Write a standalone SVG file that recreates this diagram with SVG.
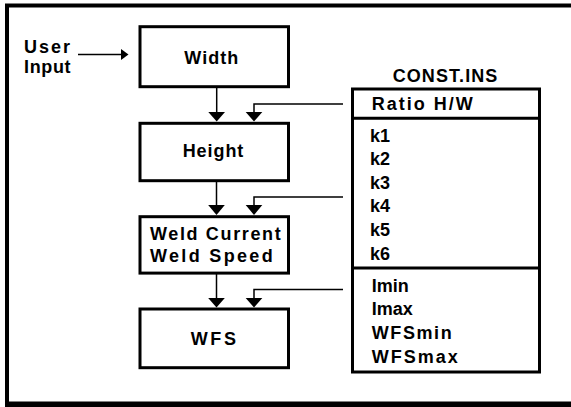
<svg xmlns="http://www.w3.org/2000/svg" width="571" height="407" viewBox="0 0 571 407">
<style>
text{font-family:"Liberation Sans",Arial,sans-serif;font-weight:bold;font-size:18px;fill:#000}
.box{fill:#fff;stroke:#000;stroke-width:3}
.ln{fill:none;stroke:#000;stroke-width:1.5}
.ah{fill:#000;stroke:none}
</style>
<rect x="0" y="0" width="571" height="407" fill="#fff"/>
<g id="frame">
<rect x="7" y="5.5" width="600" height="398.5" fill="none" stroke="#000" stroke-width="4"/>
<rect x="5" y="401.5" width="566" height="5.5" fill="#000"/>
</g>
<g id="user-input">
<text x="24" y="53.3" textLength="46">User</text>
<text x="24" y="73.3" textLength="46.5">Input</text>
</g>
<g id="width">
<rect class="box" x="140" y="26.7" width="148.5" height="60"/>
<text x="184.3" y="64" textLength="54">Width</text>
</g>
<g id="height">
<rect class="box" x="140" y="123.3" width="148.5" height="57.4"/>
<text x="182.7" y="156.7" textLength="60.6">Height</text>
</g>
<g id="weld">
<rect class="box" x="140" y="216.7" width="148.5" height="56.4"/>
<text x="150" y="240" textLength="130.7">Weld Current</text>
<text x="150" y="261.7" textLength="122.7">Weld Speed</text>
</g>
<g id="wfs">
<rect class="box" x="140" y="309" width="148.5" height="58.7"/>
<text x="190.7" y="345" textLength="45.3">WFS</text>
</g>
<g id="const-ins">
<text x="392.7" y="81.7" textLength="104.6">CONST.INS</text>
<rect class="box" x="352.5" y="89" width="187" height="283"/>
<line x1="352.5" y1="118.3" x2="539.5" y2="118.3" stroke="#000" stroke-width="3"/>
<line x1="352.5" y1="268" x2="539.5" y2="268" stroke="#000" stroke-width="3"/>
<text x="371.7" y="110" textLength="101">Ratio H/W</text>
<text x="370" y="141.5">k1</text>
<text x="370" y="165">k2</text>
<text x="370" y="188.5">k3</text>
<text x="370" y="212">k4</text>
<text x="370" y="236">k5</text>
<text x="370" y="259.5">k6</text>
<text x="371.7" y="291.7">Imin</text>
<text x="371.7" y="315">Imax</text>
<text x="371.7" y="339.3" textLength="80">WFSmin</text>
<text x="371.7" y="362.7" textLength="86">WFSmax</text>
</g>
<g id="connectors">
<line class="ln" x1="78" y1="54.5" x2="122" y2="54.5"/>
<polygon class="ah" points="121,49 128.5,54.5 121,60"/>
<line class="ln" x1="216.7" y1="87" x2="216.7" y2="113"/>
<polygon class="ah" points="208.3,112 225,112 216.7,121.5"/>
<polyline class="ln" points="343,104 254,104 254,113"/>
<polygon class="ah" points="245.7,112 262.3,112 254,121.5"/>
<line class="ln" x1="216.5" y1="181" x2="216.5" y2="206"/>
<polygon class="ah" points="208.2,205 224.8,205 216.5,215"/>
<polyline class="ln" points="343,197 254,197 254,206"/>
<polygon class="ah" points="245.7,205 262.3,205 254,215"/>
<line class="ln" x1="216.5" y1="274" x2="216.5" y2="299"/>
<polygon class="ah" points="208.2,298 224.8,298 216.5,307.5"/>
<polyline class="ln" points="343,289.5 254,289.5 254,299"/>
<polygon class="ah" points="245.7,298 262.3,298 254,307.5"/>
</g>
</svg>
